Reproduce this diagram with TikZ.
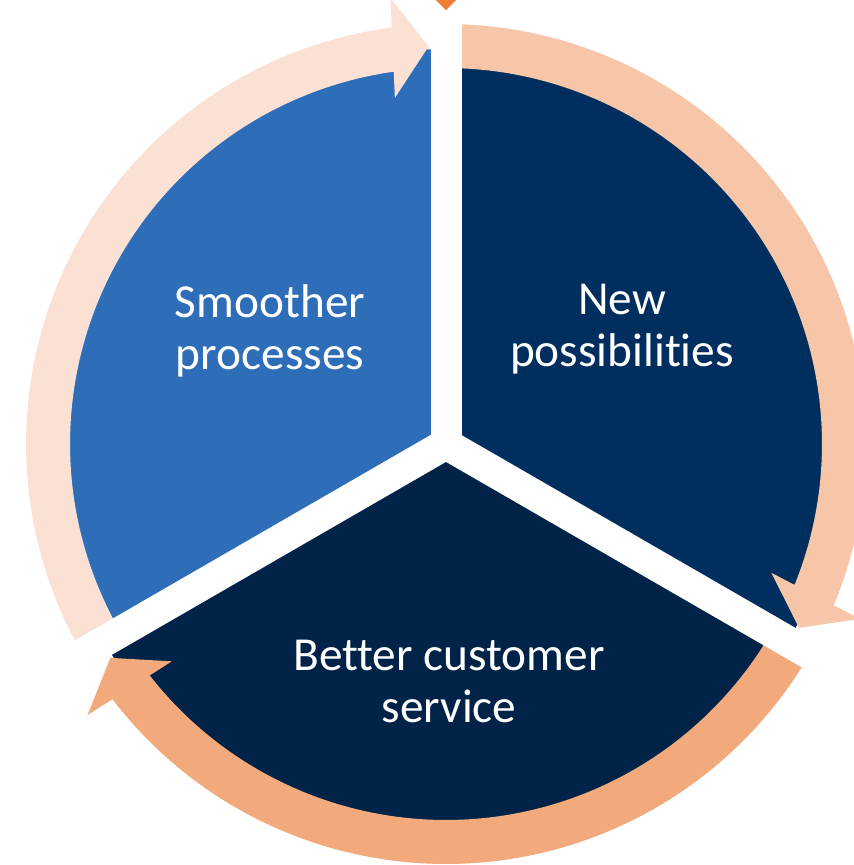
\documentclass[tikz,border=0pt]{standalone}
\usepackage{fontspec}
\setmainfont{Carlito}[Ligatures={NoCommon}]
\tikzset{every picture/.style={line width=0.75pt}}
\tikzset{
  label text/.style={text=white, align=center, inner sep=0pt, font=\fontsize{35.5}{39}\selectfont},
  gap line/.style={draw=white, line width=23.25pt},
}
% ring arrow: #1 fill, #2 angle of the tip
\newcommand{\ringarrow}[2]{%
\fill [#1, shift={(O)}, rotate=#2] (-117.5:420) arc [start angle=-117.5, end angle=-4.92, radius=420] -- (448,-36) -- (398,0) -- (348,-36) -- (-5.49:376) arc [start angle=-5.49, end angle=-117.5, radius=376] -- cycle ;
}

\begin{document}
\begin{tikzpicture}[x=0.75pt,y=0.75pt,yscale=-1,xscale=1]
\useasboundingbox (0,0) rectangle (854,865);
\coordinate (O) at (446,444);

%Shape: Pie left
\fill [color={rgb, 255:red, 46; green, 110; blue, 185 }] (O) -- ++(-90:395) arc [start angle=-90, end angle=-210, radius=395] -- cycle ;
%Shape: Pie right
\fill [color={rgb, 255:red, 0; green, 47; blue, 95 }] (O) -- ++(30:395) arc [start angle=30, end angle=-90, radius=395] -- cycle ;
%Shape: Pie bottom
\fill [color={rgb, 255:red, 1; green, 35; blue, 72 }] (O) -- ++(150:395) arc [start angle=150, end angle=30, radius=395] -- cycle ;

%Shape: Arc arrows
\ringarrow{color={rgb, 255:red, 251; green, 225; blue, 212 }}{-92.5}
\ringarrow{color={rgb, 255:red, 247; green, 198; blue, 168 }}{27.5}
\ringarrow{color={rgb, 255:red, 242; green, 170; blue, 124 }}{147.5}

%Straight Lines: gaps
\draw [gap line] (O) -- ++(-90:470) ;
\draw [gap line] (O) -- ++(150:470) ;
\draw [gap line] (O) -- ++(30:470) ;

%Shape: Triangle
\fill [color={rgb, 255:red, 237; green, 125; blue, 49 }] (436,0) -- (456,0) -- (446,10) -- cycle ;

% Text Node
\node (smoother) at (270,331) [label text] {Smoother\\processes};
% Text Node
\node (newposs) at (622,329) [label text] {New\\possibilities};
% Text Node
\node (better) at (449,681) [label text] {Better customer\\service};

\end{tikzpicture}
\end{document}
